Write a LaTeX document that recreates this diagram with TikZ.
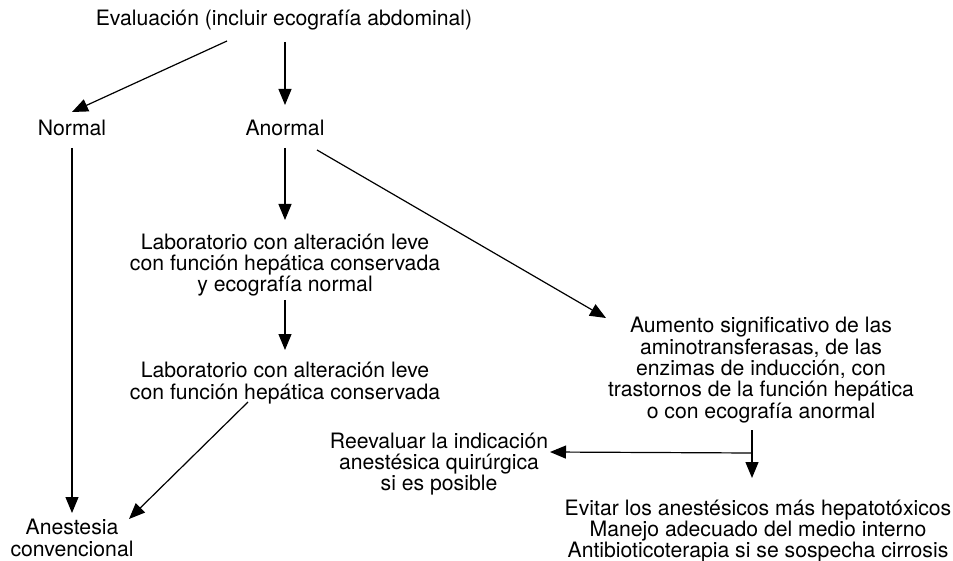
\documentclass[tikz,border=0pt]{standalone}
\usepackage{fontspec}
\setmainfont{TeX Gyre Heros}
\usetikzlibrary{arrows.meta,calc}
\begin{document}
\begin{tikzpicture}[x=1pt,y=-1pt,
  lbl/.style={align=center,inner sep=0pt,font=\fontsize{21.2}{21.4}\selectfont},
  arr/.style={-{Triangle[length=16pt,width=13pt]},line width=1.2pt},
  ln/.style={line width=1.2pt}]
\useasboundingbox (0,0) rectangle (953,561);

% boxes of text
\node[lbl] (eval) at (284,20) {Evaluación (incluir ecografía abdominal)};
\node[lbl] (normal) at (72,128) {Normal};
\node[lbl] (anormal) at (285,128) {Anormal};
\node[lbl] (lab1) at (285,265) {Laboratorio con alteración leve\\con función hepática conservada\\y ecografía normal};
\node[lbl] (lab2) at (285,383) {Laboratorio con alteración leve\\con función hepática conservada};
\node[lbl] (aum) at (761,370) {Aumento significativo de las\\aminotransferasas, de las\\enzimas de inducción, con\\trastornos de la función hepática\\o con ecografía anormal};
\node[lbl] (reev) at (439,464) {Reevaluar la indicación\\anestésica quirúrgica\\si es posible};
\node[lbl] (evitar) at (758,531) {Evitar los anestésicos más hepatotóxicos\\Manejo adecuado del medio interno\\Antibioticoterapia si se sospecha cirrosis};
\node[lbl] (anest) at (72,538) {Anestesia\\convencional};

% connectors
\draw[arr] ($(eval)+(-57,21)$) -- ($(normal)+(0,-16)$);
\draw[arr] ($(eval)+(1,22)$) -- ($(anormal)+(0,-23)$);
\draw[arr] ($(normal)+(0,20)$) -- ($(anest)+(0,-25)$);
\draw[arr] ($(anormal)+(0,20)$) -- ($(lab1)+(0,-45)$);
\draw[arr] ($(anormal)+(32,22)$) -- ($(aum)+(-155,-52)$);
\draw[arr] ($(lab1)+(0,35)$) -- ($(lab2)+(0,-33)$);
\draw[arr] ($(lab2)+(-37,19)$) -- ($(anest)+(57,-19)$);
\coordinate (split) at ($(aum)+(-9,83)$);
\draw[ln] ($(aum)+(-9,60)$) -- (split);
\draw[arr] (split) -- ($(evitar)+(-6,-53)$);
\draw[arr] (split) -- ($(reev)+(111,-12)$);
\end{tikzpicture}
\end{document}
